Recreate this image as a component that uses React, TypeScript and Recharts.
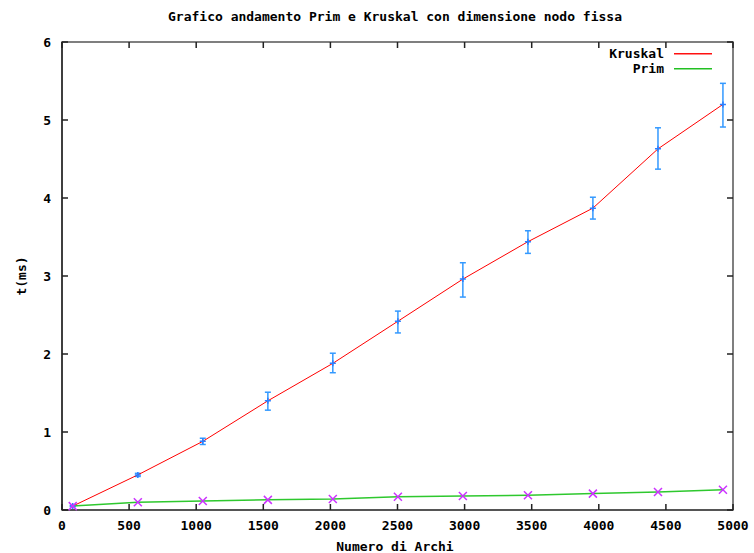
import { ComposedChart, Line, XAxis, YAxis, ErrorBar, Label, ReferenceArea } from "recharts";

// Numero di archi (x) per ogni misura
const edges = [80, 565, 1049, 1534, 2018, 2503, 2987, 3472, 3956, 4441, 4925];
// Kruskal: media e limiti dell'intervallo (ms)
const kruskalMs = [0.05, 0.45, 0.88, 1.4, 1.88, 2.42, 2.96, 3.44, 3.87, 4.63, 5.2];
const kruskalLow = [0.04, 0.43, 0.84, 1.28, 1.76, 2.27, 2.73, 3.29, 3.73, 4.37, 4.91];
const kruskalHigh = [0.06, 0.47, 0.92, 1.51, 2.01, 2.55, 3.17, 3.58, 4.01, 4.9, 5.47];
// Prim (ms)
const primMs = [0.05, 0.1, 0.115, 0.13, 0.14, 0.17, 0.18, 0.19, 0.21, 0.23, 0.26];

const xTicks = [0, 500, 1000, 1500, 2000, 2500, 3000, 3500, 4000, 4500, 5000];
const yTicks = [0, 1, 2, 3, 4, 5, 6];

const FONT = "'DejaVu Sans Mono', monospace";

// bordi dell'area del grafico (dipendono da margin / width / height sotto)
const PLOT_LEFT = 62;
const PLOT_RIGHT = 733;
const PLOT_TOP = 42;
const PLOT_BOTTOM = 510;

const rows = edges.map((e, i) => ({
  edges: e,
  kruskal: kruskalMs[i],
  kErr: [kruskalMs[i] - kruskalLow[i], kruskalHigh[i] - kruskalMs[i]],
  prim: primMs[i],
}));

// tacche interne in basso e (specchiate) in alto, come gnuplot
const BottomTick = ({ x, payload }: any) => (
  <g>
    <path d={`M${x},${PLOT_BOTTOM}V${PLOT_BOTTOM - 6}M${x},${PLOT_TOP}V${PLOT_TOP + 6}`} stroke="#222" strokeWidth={1.5} fill="none" />
    <text x={x} y={PLOT_BOTTOM + 20} textAnchor="middle" fontFamily={FONT} fontWeight="bold" fontSize={13} fill="#000">
      {payload.value}
    </text>
  </g>
);

const LeftTick = ({ y, payload }: any) => (
  <g>
    <path d={`M${PLOT_LEFT},${y}H${PLOT_LEFT + 6}M${PLOT_RIGHT},${y}H${PLOT_RIGHT - 6}`} stroke="#222" strokeWidth={1.5} fill="none" />
    <text x={PLOT_LEFT - 11} y={y + 4.5} textAnchor="end" fontFamily={FONT} fontWeight="bold" fontSize={13} fill="#000">
      {payload.value}
    </text>
  </g>
);

const PlusDot = ({ cx, cy }: any) => (
  <path d={`M${cx - 3},${cy}H${cx + 3}M${cx},${cy - 3}V${cy + 3}`} stroke="#2a7fff" strokeWidth={1.5} fill="none" />
);

const CrossDot = ({ cx, cy }: any) => (
  <path d={`M${cx - 4},${cy - 4}L${cx + 4},${cy + 4}M${cx - 4},${cy + 4}L${cx + 4},${cy - 4}`} stroke="#cc33ff" strokeWidth={1.5} fill="none" />
);

const legendItems = [
  { name: "Kruskal", color: "#ff1010" },
  { name: "Prim", color: "#22c022" },
];

export default function App() {
  return (
    <div style={{ position: "absolute", left: 0, top: 0, width: 754, height: 553, background: "#fff" }}>
      <div
        style={{
          position: "absolute",
          left: 95,
          top: 9,
          width: 600,
          textAlign: "center",
          fontFamily: FONT,
          fontWeight: "bold",
          fontSize: 13,
          lineHeight: "16px",
        }}
      >
        Grafico andamento Prim e Kruskal con dimensione nodo fissa
      </div>
      <ComposedChart
        width={754}
        height={553}
        data={rows}
        margin={{ top: PLOT_TOP, right: 754 - PLOT_RIGHT, bottom: 0, left: 0 }}
      >
        {/* cornice del grafico */}
        <ReferenceArea x1={0} x2={5000} y1={0} y2={6} fill="none" stroke="#555" strokeWidth={1.5} />
        <XAxis
          dataKey="edges"
          type="number"
          domain={[0, 5000]}
          ticks={xTicks}
          height={553 - PLOT_BOTTOM}
          tickLine={false}
          tick={<BottomTick />}
          axisLine={{ stroke: "#555", strokeWidth: 2 }}
        >
          <Label
            content={() => (
              <text x={395} y={551} textAnchor="middle" fontFamily={FONT} fontWeight="bold" fontSize={13} fill="#000">
                Numero di Archi
              </text>
            )}
          />
        </XAxis>
        <YAxis
          type="number"
          domain={[0, 6]}
          ticks={yTicks}
          width={PLOT_LEFT}
          tickLine={false}
          tick={<LeftTick />}
          axisLine={{ stroke: "#000", strokeWidth: 1 }}
        >
          <Label
            content={() => (
              <text
                x={26}
                y={276}
                transform="rotate(-90 26 276)"
                textAnchor="middle"
                fontFamily={FONT}
                fontWeight="bold"
                fontSize={13}
                fill="#000"
              >
                t(ms)
              </text>
            )}
          />
        </YAxis>
        <Line
          dataKey="kruskal"
          stroke="#ff0000"
          strokeWidth={1}
          dot={<PlusDot />}
          activeDot={false}
          isAnimationActive={false}
        >
          <ErrorBar dataKey="kErr" width={3} stroke="#3399ff" strokeWidth={1.5} direction="y" isAnimationActive={false} />
        </Line>
        <Line
          dataKey="prim"
          stroke="#2ec82e"
          strokeWidth={1.5}
          dot={<CrossDot />}
          activeDot={false}
          isAnimationActive={false}
        />
      </ComposedChart>
      <svg
        width={160}
        height={32}
        style={{ position: "absolute", left: 560, top: 45, overflow: "visible" }}
      >
        {legendItems.map((s, i) => (
          <g key={s.name}>
            <text
              x={104}
              y={13 + i * 15}
              textAnchor="end"
              fontFamily={FONT}
              fontWeight="bold"
              fontSize={13}
              fill="#000"
            >
              {s.name}
            </text>
            <rect x={114} y={8 + i * 15} width={38} height={1.5} fill={s.color} />
          </g>
        ))}
      </svg>
    </div>
  );
}
